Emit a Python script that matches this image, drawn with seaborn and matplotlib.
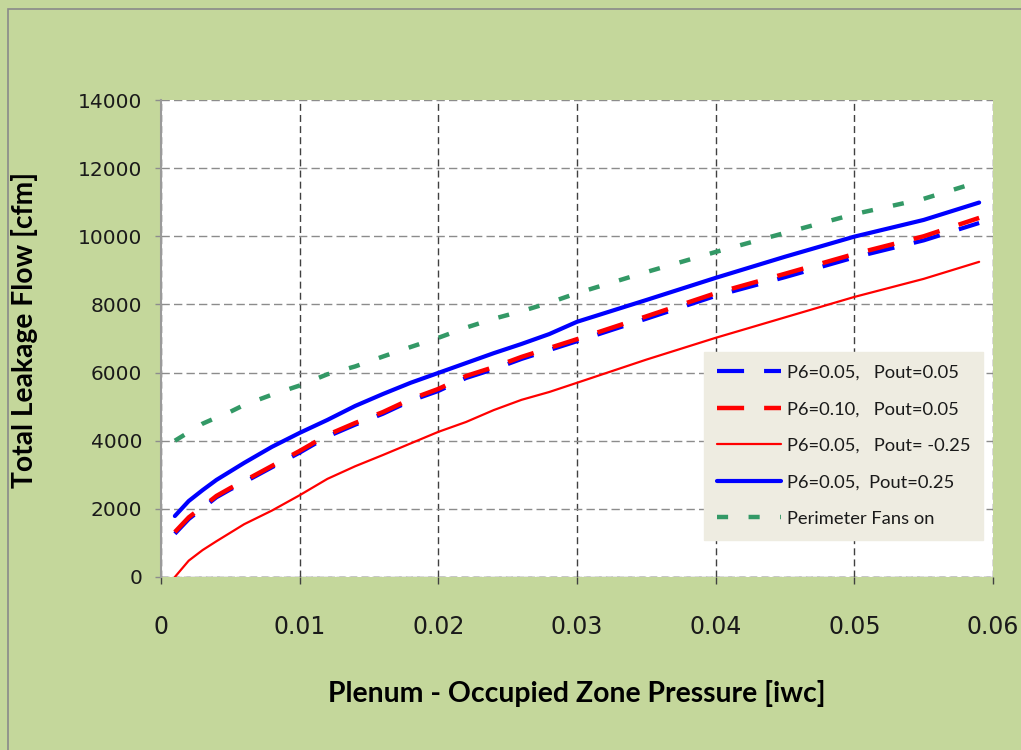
import matplotlib
matplotlib.use("Agg")
import matplotlib.pyplot as plt
import seaborn as sns
from matplotlib.patches import Rectangle
from matplotlib.ticker import FuncFormatter

# pressure difference [iwc]
pressure = [0.001, 0.002, 0.003, 0.004, 0.005, 0.006, 0.008, 0.010, 0.012, 0.014,
            0.016, 0.018, 0.020, 0.022, 0.024, 0.026, 0.028, 0.030, 0.035, 0.040,
            0.045, 0.050, 0.055, 0.059]

# total leakage flow [cfm]
p6_05_out_05 = [1270, 1700, 2020, 2340, 2570, 2780, 3220, 3650, 4120, 4470,
                4790, 5170, 5460, 5840, 6100, 6400, 6660, 6920, 7580, 8250,
                8800, 9380, 9880, 10390]
p6_10_out_05 = [1320, 1750, 2060, 2380, 2610, 2820, 3260, 3700, 4170, 4520,
                4840, 5220, 5520, 5900, 6160, 6460, 6720, 6980, 7650, 8330,
                8900, 9480, 10000, 10540]
p6_05_out_m25 = [0, 480, 790, 1050, 1300, 1550, 1950, 2400, 2880, 3250,
                 3580, 3920, 4260, 4550, 4900, 5200, 5430, 5700, 6380, 7020,
                 7620, 8220, 8750, 9250]
p6_05_out_25 = [1790, 2230, 2550, 2850, 3100, 3350, 3820, 4230, 4610, 5020,
                5370, 5700, 5990, 6280, 6570, 6840, 7130, 7490, 8130, 8780,
                9400, 9990, 10480, 10990]
perimeter_fans = [4000, 4250, 4500, 4680, 4850, 5050, 5350, 5620, 5950, 6180,
                  6470, 6750, 7020, 7320, 7580, 7800, 8050, 8330, 8950, 9540,
                  10100, 10650, 11100, 11600]

labels = ["P6=0.05,   Pout=0.05", "P6=0.10,   Pout=0.05", "P6=0.05,   Pout= -0.25",
          "P6=0.05,  Pout=0.25", "Perimeter Fans on"]
x_ticks = [0, 0.01, 0.02, 0.03, 0.04, 0.05, 0.06]
y_ticks = [0, 2000, 4000, 6000, 8000, 10000, 12000, 14000]

sns.set_style("white")
plt.rcParams['font.family'] = ['DejaVu Sans']

bg = '#C4D79B'
fig = plt.figure(figsize=(10.21, 7.5), dpi=100, facecolor=bg)
ax = fig.add_axes([161/1021, 173/750, 832/1021, 477/750])
ax.set_facecolor('white')

# outer frame of the chart area
fig.patches.append(Rectangle((8/1021, -0.1), 1.2, 1.1 - 9/750, transform=fig.transFigure,
                             fill=False, edgecolor='#8A8A8A', lw=1.2, clip_on=False))

# series
sns.lineplot(x=pressure, y=p6_05_out_05, ax=ax, color='#0000FF', lw=3.0,
             linestyle=(0, (6.5, 4.8)), dash_capstyle='butt', label=labels[0], zorder=4)
sns.lineplot(x=pressure, y=p6_10_out_05, ax=ax, color='#FF0000', lw=3.2,
             linestyle=(0, (6.1, 4.5)), dash_capstyle='butt', label=labels[1], zorder=5)
sns.lineplot(x=pressure, y=p6_05_out_m25, ax=ax, color='#FF0000', lw=1.6,
             label=labels[2], zorder=4)
sns.lineplot(x=pressure, y=p6_05_out_25, ax=ax, color='#0000FF', lw=3.0,
             label=labels[3], zorder=4)
sns.lineplot(x=pressure, y=perimeter_fans, ax=ax, color='#339966', lw=3.2,
             linestyle=(0, (2.5, 4.6)), dash_capstyle='butt', label=labels[4], zorder=4)

ax.set_xlim(0, 0.06)
ax.set_ylim(0, 14000)
ax.set_xticks(x_ticks)
ax.set_yticks(y_ticks)
ax.xaxis.set_major_formatter(FuncFormatter(lambda v, p: '%g' % v))

# grid
ax.xaxis.grid(True, color='#404040', linestyle=(0, (5, 3)), lw=1.0)
ax.yaxis.grid(True, color='#8C8C8C', linestyle=(0, (6, 3)), lw=1.0)
ax.axhline(0, color='#404040', linestyle=(0, (5, 3)), lw=1.0, zorder=2)
ax.set_axisbelow(True)

for s in ['top', 'right', 'bottom']:
    ax.spines[s].set_visible(False)
ax.spines['left'].set_color('#9A9A9A')
ax.spines['left'].set_linewidth(1.5)

ax.tick_params(axis='x', direction='out', length=5, width=1, color='#404040',
               pad=22, labelsize=17, labelcolor='#1A1A1A', bottom=True)
ax.tick_params(axis='y', direction='out', length=4.5, width=1, color='#8C8C8C',
               pad=9, labelsize=14.5, labelcolor='#1A1A1A', left=True)

ax.set_xlabel("Plenum - Occupied Zone Pressure [iwc]", family=['Lato', 'DejaVu Sans'],
              fontweight='bold', fontsize=20.4, color='black')
ax.set_ylabel("Total Leakage Flow [cfm]", family=['Lato', 'DejaVu Sans'],
              fontweight='bold', fontsize=20.3, color='black')
ax.xaxis.set_label_coords(0.5, -0.216)
ax.yaxis.set_label_coords(-0.148, 0.518)

leg = ax.legend(loc='upper left', bbox_to_anchor=(0.653, 0.472), borderaxespad=0,
                frameon=True, fancybox=False, handlelength=3.5, handletextpad=0.3,
                labelspacing=1.12, borderpad=0.7,
                prop={'family': ['Lato', 'DejaVu Sans'], 'size': 13.2})
leg.get_frame().set_facecolor('#EEECE1')
leg.get_frame().set_edgecolor('#EEECE1')
leg.get_frame().set_alpha(1)
for t in leg.get_texts():
    t.set_color('#1A1A1A')

fig.savefig("out.png", dpi=100, facecolor=bg)
